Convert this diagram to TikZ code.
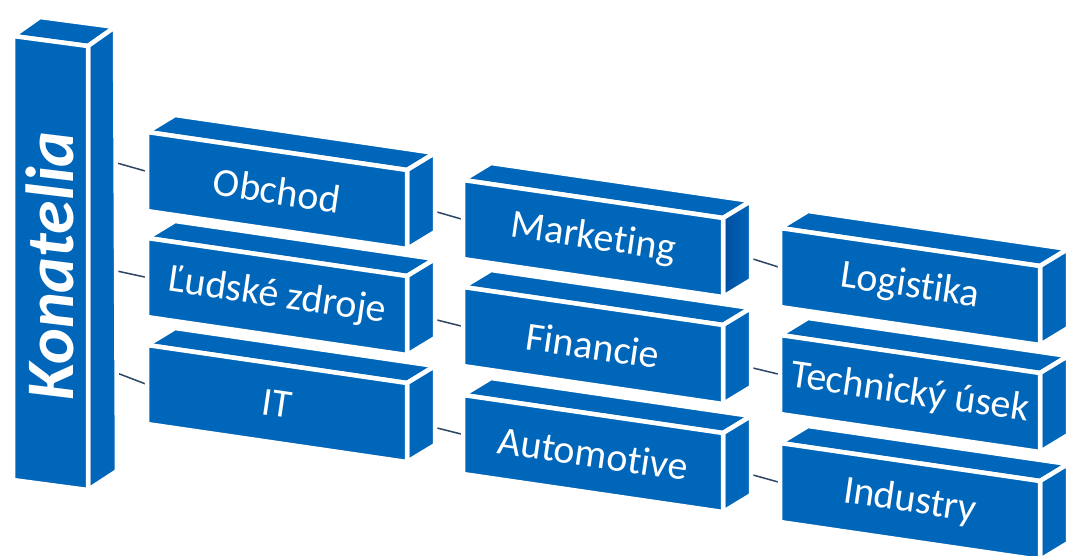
\documentclass[tikz,border=0pt]{standalone}
\usepackage{fontspec}
\setmainfont{Carlito}[Ligatures=CommonOff]
\usetikzlibrary{calc,backgrounds}
\definecolor{mainblue}{RGB}{0,102,186}
\definecolor{darkside}{RGB}{0,78,160}
\definecolor{connc}{RGB}{45,70,100}
\tikzset{
  face/.style={fill=mainblue, draw=white, line width=4.5pt, line join=round},
  boxtext/.style={text=white, font=\fontsize{40}{40}\selectfont, rotate=-8.3, inner sep=0pt},
  conn/.style={draw=connc, line width=1.5pt},
}
% #1 right-face fill options, #2 name, #3 x, #4 y, #5 text
\newcommand\blok[5][]{%
  \coordinate (#2-A) at (#3,#4);
  \coordinate (#2-B) at ($(#2-A)+(260,38)$);
  \coordinate (#2-C) at ($(#2-B)+(0,79)$);
  \coordinate (#2-D) at ($(#2-A)+(0,79)$);
  \coordinate (#2-L) at ($(#2-A)!0.5!(#2-D)$);
  \filldraw[face] (#2-A) -- ($(#2-A)+(28,-17)$) -- ($(#2-B)+(28,-17)$) -- (#2-B) -- cycle;
  \filldraw[face,#1] (#2-B) -- ($(#2-B)+(28,-17)$) -- ($(#2-C)+(28,-17)$) -- (#2-C) -- cycle;
  \filldraw[face] (#2-A) -- (#2-B) -- (#2-C) -- (#2-D) -- cycle;
  \node[boxtext] (#2) at ($(#2-A)!0.5!(#2-C)$) {#5};
}
\begin{document}
\begin{tikzpicture}[x=1pt,y={(0pt,-1pt)}]
\useasboundingbox (0,0) rectangle (1068,555);
\clip (0,0) rectangle (1068,555);
% Konatelia column
\coordinate (kA) at (13,36);
\coordinate (kB) at (88,46);
\coordinate (kC) at (88,490);
\coordinate (kD) at (13,480);
\filldraw[face] (kA) -- ($(kA)+(27,-19)$) -- ($(kB)+(27,-19)$) -- (kB) -- cycle;
\filldraw[face] (kB) -- ($(kB)+(27,-19)$) -- ($(kC)+(29,-19)$) -- (kC) -- cycle;
\filldraw[face] (kA) -- (kB) -- (kC) -- (kD) -- cycle;
\node[text=white, rotate=90, inner sep=0pt, font=\fontsize{68}{68}\selectfont\bfseries\itshape] (kon) at (50,266) {Konatelia};
% boxes (lower first)
\blok{it}{147}{345}{IT}
\blok{ludske}{147}{238}{Ľudské zdroje}
\blok{obchod}{147}{132}{Obchod}
\blok{automotive}{463}{395}{Automotive}
\blok{financie}{463}{287}{Financie}
\blok[left color=darkside,right color=mainblue]{marketing}{463}{180}{Marketing}
\blok{industry}{780}{443}{Industry}
\blok{technicky}{780}{335}{Technický úsek}
\blok{logistika}{780}{228}{Logistika}
% connectors
\coordinate (k1) at (117,163);
\coordinate (k2) at (117,271);
\coordinate (k3) at (117,373);
\coordinate (o1) at (437,212);
\coordinate (l1) at (437,320);
\coordinate (i1) at (437,428);
\coordinate (m1) at (753,259);
\coordinate (f1) at (753,368);
\coordinate (a1) at (753,475);
\begin{pgfonlayer}{background}
\draw[conn] (k1) -- (obchod-L);
\draw[conn] (k2) -- (ludske-L);
\draw[conn] (k3) -- (it-L);
\draw[conn] (o1) -- (marketing-L);
\draw[conn] (l1) -- (financie-L);
\draw[conn] (i1) -- (automotive-L);
\draw[conn] (m1) -- (logistika-L);
\draw[conn] (f1) -- (technicky-L);
\draw[conn] (a1) -- (industry-L);
\end{pgfonlayer}
\end{tikzpicture}
\end{document}
